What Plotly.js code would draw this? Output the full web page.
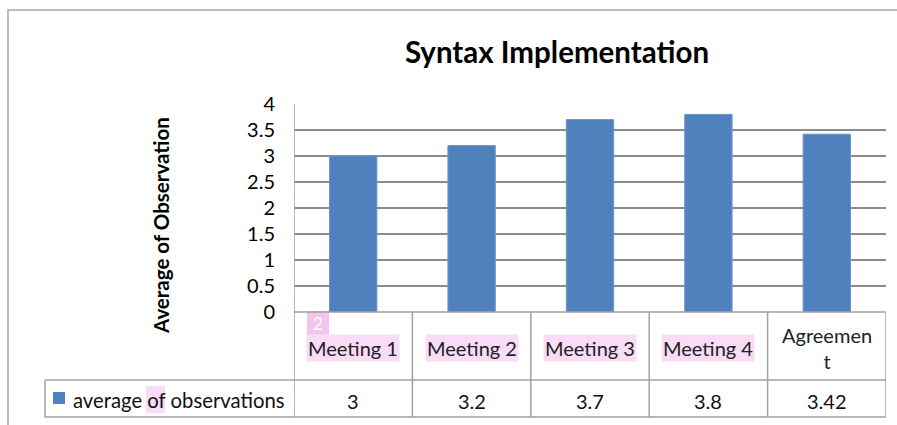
<!DOCTYPE html>
<html>
<head>
<meta charset="utf-8">
<script src="https://cdn.plot.ly/plotly-3.0.1.min.js"></script>
<style>html,body{margin:0;padding:0;background:#fff;}#chart{width:897px;height:425px;}</style>
</head>
<body>
<div id="chart"></div>
<script>
// ---- data ----
var categories = ["Meeting 1", "Meeting 2", "Meeting 3", "Meeting 4", "Agreement"];
var categoryLabels = ["Meeting 1", "Meeting 2", "Meeting 3", "Meeting 4", "Agreemen<br>t"];
var highlighted = [true, true, true, true, false];
var seriesName = "average of observations";
var values = [3, 3.2, 3.7, 3.8, 3.42];
var valueLabels = ["3", "3.2", "3.7", "3.8", "3.42"];
var titleText = "Syntax Implementation";
var yTitle = "Average of Observation";

// ---- helpers (pixel -> paper) ----
var W = 897, H = 425;
function px(x) { return x / W; }
function py(y) { return 1 - y / H; }

var FONT = "Lato, 'Open Sans', sans-serif";
var GRID = "#8c8c8c";
var BORDER = "#a0a0a0";
var PINK = "#f9dcf5";

var plotL = 294, plotR = 886, plotT = 104, plotB = 312;
var rowMid = 380, rowBot = 417, legendL = 45;

var shapes = [];
// outer chart border
shapes.push({type: "rect", xref: "paper", yref: "paper", x0: px(8), x1: px(905), y0: py(10), y1: py(440),
  line: {color: "#a6a6a6", width: 1.5}, layer: "below"});
// pink highlight behind "of"
shapes.push({type: "rect", xref: "paper", yref: "paper", x0: px(146), x1: px(165), y0: py(386), y1: py(413),
  line: {width: 0}, fillcolor: PINK, layer: "below"});
// badge
shapes.push({type: "rect", xref: "paper", yref: "paper", x0: px(307), x1: px(329), y0: py(311), y1: py(335),
  line: {width: 0}, fillcolor: "#f4c4ef", layer: "above"});
// table horizontal lines
shapes.push({type: "line", xref: "paper", yref: "paper", x0: px(plotL), x1: px(plotR), y0: py(plotB), y1: py(plotB), line: {color: BORDER, width: 1.5}});
shapes.push({type: "line", xref: "paper", yref: "paper", x0: px(legendL), x1: px(plotR), y0: py(rowMid), y1: py(rowMid), line: {color: BORDER, width: 1.5}});
shapes.push({type: "line", xref: "paper", yref: "paper", x0: px(legendL), x1: px(plotR), y0: py(rowBot), y1: py(rowBot), line: {color: BORDER, width: 1.5}});
shapes.push({type: "line", xref: "paper", yref: "paper", x0: px(legendL), x1: px(legendL), y0: py(rowMid), y1: py(rowBot), line: {color: BORDER, width: 1.5}});
// column dividers (category boundaries on the x axis)
for (var i = 0; i <= categories.length; i++) {
  shapes.push({type: "line", xref: "x", yref: "paper", x0: i - 0.5, x1: i - 0.5,
    y0: py(i === 0 ? plotT : plotB), y1: py(rowBot), line: {color: BORDER, width: 1.5}});
}
// legend key
shapes.push({type: "rect", xref: "paper", yref: "paper", x0: px(53), x1: px(65), y0: py(392), y1: py(404),
  line: {width: 0}, fillcolor: "#4f81bd"});

var annotations = [];
// y-axis title
annotations.push({text: "<b>" + yTitle + "</b>", xref: "paper", yref: "paper", x: px(161), y: py(226),
  xanchor: "center", yanchor: "middle", textangle: -90, showarrow: false,
  font: {family: FONT, size: 20.5, color: "#000"}});
// badge text
annotations.push({text: "2", xref: "paper", yref: "paper", x: px(318), y: py(323), xanchor: "center", yanchor: "middle",
  showarrow: false, font: {family: FONT, size: 17, color: "#ffffff"}});
// category labels and values
for (var j = 0; j < categories.length; j++) {
  annotations.push({text: categoryLabels[j], xref: "x", yref: "paper", x: j, y: py(348),
    xanchor: "center", yanchor: "middle", showarrow: false, borderpad: 1,
    bgcolor: highlighted[j] ? PINK : "rgba(0,0,0,0)",
    font: {family: FONT, size: 20, color: "#222"}});
  annotations.push({text: valueLabels[j], xref: "x", yref: "paper", x: j, y: py(401),
    xanchor: "center", yanchor: "middle", showarrow: false,
    font: {family: FONT, size: 20, color: "#111"}});
}
// legend text
annotations.push({text: seriesName, xref: "paper", yref: "paper", x: px(71), y: py(400),
  xanchor: "left", yanchor: "middle", showarrow: false,
  font: {family: FONT, size: 20.3, color: "#111"}});

var trace = {
  type: "bar",
  x: categories,
  y: values,
  width: 0.4,
  name: seriesName,
  marker: {color: "#4f81bd", line: {color: "#6b96c9", width: 1}},
  hoverinfo: "none"
};

var layout = {
  width: W, height: H,
  margin: {l: 0, r: 0, t: 0, b: 0},
  paper_bgcolor: "#fff", plot_bgcolor: "#fff",
  showlegend: false,
  title: {text: "<b>" + titleText + "</b>", x: px(557), y: py(53), xanchor: "center", yanchor: "middle",
    xref: "paper", yref: "paper",
    font: {family: FONT, size: 29.5, color: "#000"}},
  xaxis: {domain: [px(plotL), px(plotR)], type: "category", range: [-0.5, 4.5],
    showticklabels: false, showgrid: false, zeroline: false, showline: false, fixedrange: true},
  yaxis: {domain: [py(plotB), py(plotT)], range: [0, 4], dtick: 0.5, tick0: 0,
    showgrid: true, gridcolor: GRID, gridwidth: 1.2, zeroline: false, showline: false,
    ticks: "", ticklabelstandoff: 18,
    tickfont: {family: FONT, size: 20, color: "#000"}, fixedrange: true},
  shapes: shapes,
  annotations: annotations,
  bargap: 0.6
};

Plotly.newPlot("chart", [trace], layout, {staticPlot: true, displayModeBar: false});
</script>
</body>
</html>
